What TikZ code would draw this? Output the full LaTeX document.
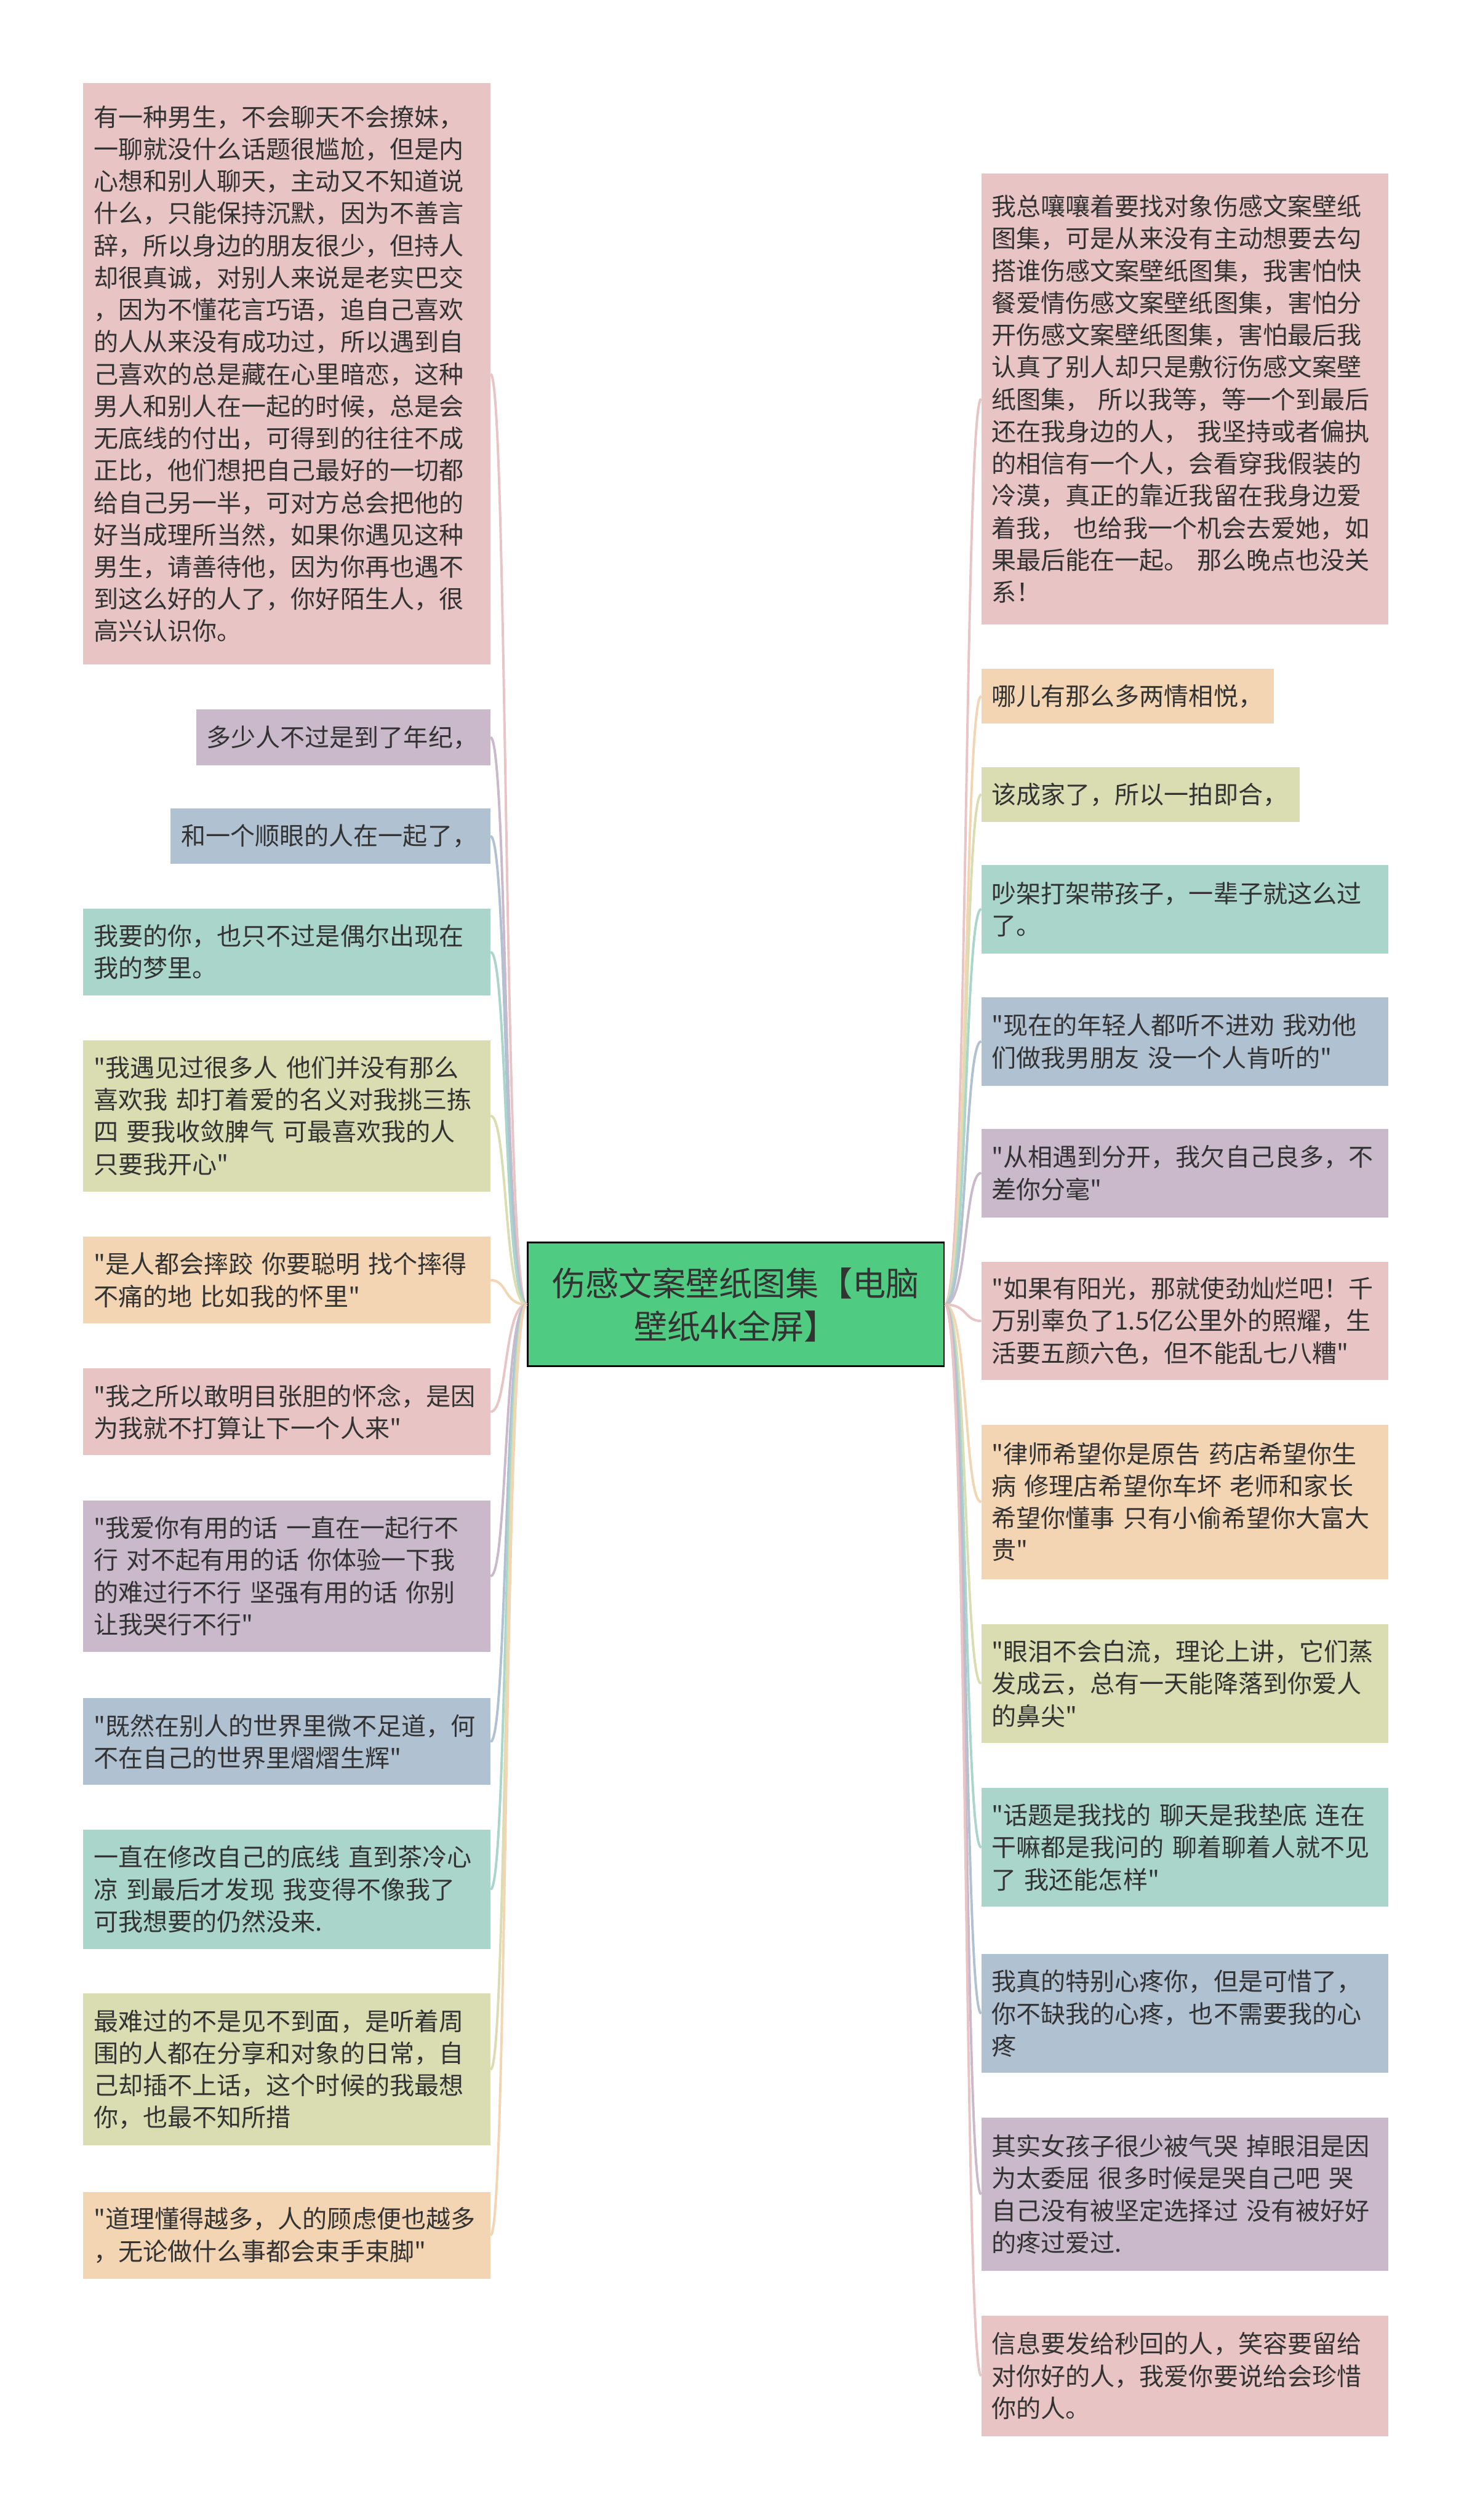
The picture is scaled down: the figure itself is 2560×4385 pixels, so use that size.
\documentclass[tikz,border=0pt]{standalone}
\usepackage{fontspec}
\newfontfamily\cjk{Noto Sans CJK SC}
\usetikzlibrary{calc}

\definecolor{rosebox}{HTML}{E8C4C4}
\definecolor{plumbox}{HTML}{C9B9CB}
\definecolor{slatebox}{HTML}{B0C1D2}
\definecolor{mintbox}{HTML}{A9D5CA}
\definecolor{olivebox}{HTML}{D9DDB1}
\definecolor{peachbox}{HTML}{F3D5B4}
\definecolor{rootgreen}{HTML}{50CC82}
\definecolor{inkgray}{HTML}{333333}

\tikzset{
  topic/.style={draw=black, line width=0.9pt, fill=rootgreen, text=inkgray,
    minimum width=7.24cm, minimum height=2.15cm, align=center,
    font=\cjk\fontsize{16.5pt}{21.3pt}\selectfont},
  leaf/.style={anchor=north west, fill=#1, text=inkgray, outer sep=0pt,
    inner xsep=0.18cm, inner ysep=0pt, align=left, text width=6.72cm,
    font=\cjk\fontsize{12.2pt}{15.9pt}\selectfont},
  link/.style={draw=#1, line width=1.2pt},
}

\begin{document}
\begin{tikzpicture}[x=0.01cm,y=-0.01cm]
  \useasboundingbox (0,0) rectangle (2560,4385);

  % centre
  \node[topic] (root) at (1280,2270) {伤感文案壁纸图集【电脑\\壁纸4k全屏】};

  % left column
  \node[leaf=rosebox, minimum height=10.11cm] (L1) at (145,145)
    {有一种男生，不会聊天不会撩妹，\\一聊就没什么话题很尴尬，但是内\\心想和别人聊天，主动又不知道说\\什么，只能保持沉默，因为不善言\\辞，所以身边的朋友很少，但持人\\却很真诚，对别人来说是老实巴交\\，因为不懂花言巧语，追自己喜欢\\的人从来没有成功过，所以遇到自\\己喜欢的总是藏在心里暗恋，这种\\男人和别人在一起的时候，总是会\\无底线的付出，可得到的往往不成\\正比，他们想把自己最好的一切都\\给自己另一半，可对方总会把他的\\好当成理所当然，如果你遇见这种\\男生，请善待他，因为你再也遇不\\到这么好的人了，你好陌生人，很\\高兴认识你。};
  \node[leaf=plumbox, text width=4.76cm, minimum height=0.98cm] (L2) at (341,1234)
    {多少人不过是到了年纪，};
  \node[leaf=slatebox, text width=5.2cm, minimum height=0.96cm] (L3) at (297,1407)
    {和一个顺眼的人在一起了，};
  \node[leaf=mintbox, minimum height=1.51cm] (L4) at (145,1581)
    {我要的你，也只不过是偶尔出现在\\我的梦里。};
  \node[leaf=olivebox, minimum height=2.63cm] (L5) at (145,1810)
    {"我遇见过很多人 他们并没有那么\\喜欢我 却打着爱的名义对我挑三拣\\四 要我收敛脾气 可最喜欢我的人\\只要我开心"};
  \node[leaf=peachbox, minimum height=1.51cm] (L6) at (145,2152)
    {"是人都会摔跤 你要聪明 找个摔得\\不痛的地 比如我的怀里"};
  \node[leaf=rosebox, minimum height=1.51cm] (L7) at (145,2381)
    {"我之所以敢明目张胆的怀念，是因\\为我就不打算让下一个人来"};
  \node[leaf=plumbox, minimum height=2.63cm] (L8) at (145,2611)
    {"我爱你有用的话 一直在一起行不\\行 对不起有用的话 你体验一下我\\的难过行不行 坚强有用的话 你别\\让我哭行不行"};
  \node[leaf=slatebox, minimum height=1.51cm] (L9) at (145,2955)
    {"既然在别人的世界里微不足道，何\\不在自己的世界里熠熠生辉"};
  \node[leaf=mintbox, minimum height=2.07cm] (L10) at (145,3184)
    {一直在修改自己的底线 直到茶冷心\\凉 到最后才发现 我变得不像我了\\可我想要的仍然没来.};
  \node[leaf=olivebox, minimum height=2.64cm] (L11) at (145,3469)
    {最难过的不是见不到面，是听着周\\围的人都在分享和对象的日常，自\\己却插不上话，这个时候的我最想\\你，也最不知所措};
  \node[leaf=peachbox, minimum height=1.51cm] (L12) at (145,3814)
    {"道理懂得越多，人的顾虑便也越多\\，无论做什么事都会束手束脚"};

  % right column
  \node[leaf=rosebox, minimum height=7.84cm] (R1) at (1707,302)
    {我总嚷嚷着要找对象伤感文案壁纸\\图集，可是从来没有主动想要去勾\\搭谁伤感文案壁纸图集，我害怕快\\餐爱情伤感文案壁纸图集，害怕分\\开伤感文案壁纸图集，害怕最后我\\认真了别人却只是敷衍伤感文案壁\\纸图集， 所以我等，等一个到最后\\还在我身边的人， 我坚持或者偏执\\的相信有一个人，会看穿我假装的\\冷漠，真正的靠近我留在我身边爱\\着我， 也给我一个机会去爱她，如\\果最后能在一起。 那么晚点也没关\\系！};
  \node[leaf=peachbox, text width=4.73cm, minimum height=0.95cm] (R2) at (1707,1164)
    {哪儿有那么多两情相悦，};
  \node[leaf=olivebox, text width=5.18cm, minimum height=0.95cm] (R3) at (1707,1335)
    {该成家了，所以一拍即合，};
  \node[leaf=mintbox, minimum height=1.54cm] (R4) at (1707,1505)
    {吵架打架带孩子，一辈子就这么过\\了。};
  \node[leaf=slatebox, minimum height=1.54cm] (R5) at (1707,1735)
    {"现在的年轻人都听不进劝 我劝他\\们做我男朋友 没一个人肯听的"};
  \node[leaf=plumbox, minimum height=1.54cm] (R6) at (1707,1964)
    {"从相遇到分开，我欠自己良多，不\\差你分毫"};
  \node[leaf=rosebox, minimum height=2.05cm] (R7) at (1707,2196)
    {"如果有阳光，那就使劲灿烂吧！千\\万别辜负了1.5亿公里外的照耀，生\\活要五颜六色，但不能乱七八糟"};
  \node[leaf=peachbox, minimum height=2.69cm] (R8) at (1707,2479)
    {"律师希望你是原告 药店希望你生\\病 修理店希望你车坏 老师和家长\\希望你懂事 只有小偷希望你大富大\\贵"};
  \node[leaf=olivebox, minimum height=2.07cm] (R9) at (1707,2826)
    {"眼泪不会白流，理论上讲，它们蒸\\发成云，总有一天能降落到你爱人\\的鼻尖"};
  \node[leaf=mintbox, minimum height=2.07cm] (R10) at (1707,3111)
    {"话题是我找的 聊天是我垫底 连在\\干嘛都是我问的 聊着聊着人就不见\\了 我还能怎样"};
  \node[leaf=slatebox, minimum height=2.07cm] (R11) at (1707,3400)
    {我真的特别心疼你，但是可惜了，\\你不缺我的心疼，也不需要我的心\\疼};
  \node[leaf=plumbox, minimum height=2.66cm] (R12) at (1707,3685)
    {其实女孩子很少被气哭 掉眼泪是因\\为太委屈 很多时候是哭自己吧 哭\\自己没有被坚定选择过 没有被好好\\的疼过爱过.};
  \node[leaf=rosebox, minimum height=2.10cm] (R13) at (1707,4029)
    {信息要发给秒回的人，笑容要留给\\对你好的人，我爱你要说给会珍惜\\你的人。};

  % links to the left
  \draw[link=rosebox] (root.west) .. controls ($(root.west)+(-40,0)$) and ($(L1.east)+(30,0)$) .. (L1.east);
  \draw[link=plumbox] (root.west) .. controls ($(root.west)+(-40,0)$) and ($(L2.east)+(30,0)$) .. (L2.east);
  \draw[link=slatebox] (root.west) .. controls ($(root.west)+(-40,0)$) and ($(L3.east)+(30,0)$) .. (L3.east);
  \draw[link=mintbox] (root.west) .. controls ($(root.west)+(-40,0)$) and ($(L4.east)+(30,0)$) .. (L4.east);
  \draw[link=olivebox] (root.west) .. controls ($(root.west)+(-40,0)$) and ($(L5.east)+(30,0)$) .. (L5.east);
  \draw[link=peachbox] (root.west) .. controls ($(root.west)+(-40,0)$) and ($(L6.east)+(30,0)$) .. (L6.east);
  \draw[link=rosebox] (root.west) .. controls ($(root.west)+(-40,0)$) and ($(L7.east)+(30,0)$) .. (L7.east);
  \draw[link=plumbox] (root.west) .. controls ($(root.west)+(-40,0)$) and ($(L8.east)+(30,0)$) .. (L8.east);
  \draw[link=slatebox] (root.west) .. controls ($(root.west)+(-40,0)$) and ($(L9.east)+(30,0)$) .. (L9.east);
  \draw[link=mintbox] (root.west) .. controls ($(root.west)+(-40,0)$) and ($(L10.east)+(30,0)$) .. (L10.east);
  \draw[link=olivebox] (root.west) .. controls ($(root.west)+(-40,0)$) and ($(L11.east)+(30,0)$) .. (L11.east);
  \draw[link=peachbox] (root.west) .. controls ($(root.west)+(-40,0)$) and ($(L12.east)+(30,0)$) .. (L12.east);

  % links to the right
  \draw[link=rosebox] (root.east) .. controls ($(root.east)+(40,0)$) and ($(R1.west)+(-30,0)$) .. (R1.west);
  \draw[link=peachbox] (root.east) .. controls ($(root.east)+(40,0)$) and ($(R2.west)+(-30,0)$) .. (R2.west);
  \draw[link=olivebox] (root.east) .. controls ($(root.east)+(40,0)$) and ($(R3.west)+(-30,0)$) .. (R3.west);
  \draw[link=mintbox] (root.east) .. controls ($(root.east)+(40,0)$) and ($(R4.west)+(-30,0)$) .. (R4.west);
  \draw[link=slatebox] (root.east) .. controls ($(root.east)+(40,0)$) and ($(R5.west)+(-30,0)$) .. (R5.west);
  \draw[link=plumbox] (root.east) .. controls ($(root.east)+(40,0)$) and ($(R6.west)+(-30,0)$) .. (R6.west);
  \draw[link=rosebox] (root.east) .. controls ($(root.east)+(40,0)$) and ($(R7.west)+(-30,0)$) .. (R7.west);
  \draw[link=peachbox] (root.east) .. controls ($(root.east)+(40,0)$) and ($(R8.west)+(-30,0)$) .. (R8.west);
  \draw[link=olivebox] (root.east) .. controls ($(root.east)+(40,0)$) and ($(R9.west)+(-30,0)$) .. (R9.west);
  \draw[link=mintbox] (root.east) .. controls ($(root.east)+(40,0)$) and ($(R10.west)+(-30,0)$) .. (R10.west);
  \draw[link=slatebox] (root.east) .. controls ($(root.east)+(40,0)$) and ($(R11.west)+(-30,0)$) .. (R11.west);
  \draw[link=plumbox] (root.east) .. controls ($(root.east)+(40,0)$) and ($(R12.west)+(-30,0)$) .. (R12.west);
  \draw[link=rosebox] (root.east) .. controls ($(root.east)+(40,0)$) and ($(R13.west)+(-30,0)$) .. (R13.west);
\end{tikzpicture}
\end{document}
